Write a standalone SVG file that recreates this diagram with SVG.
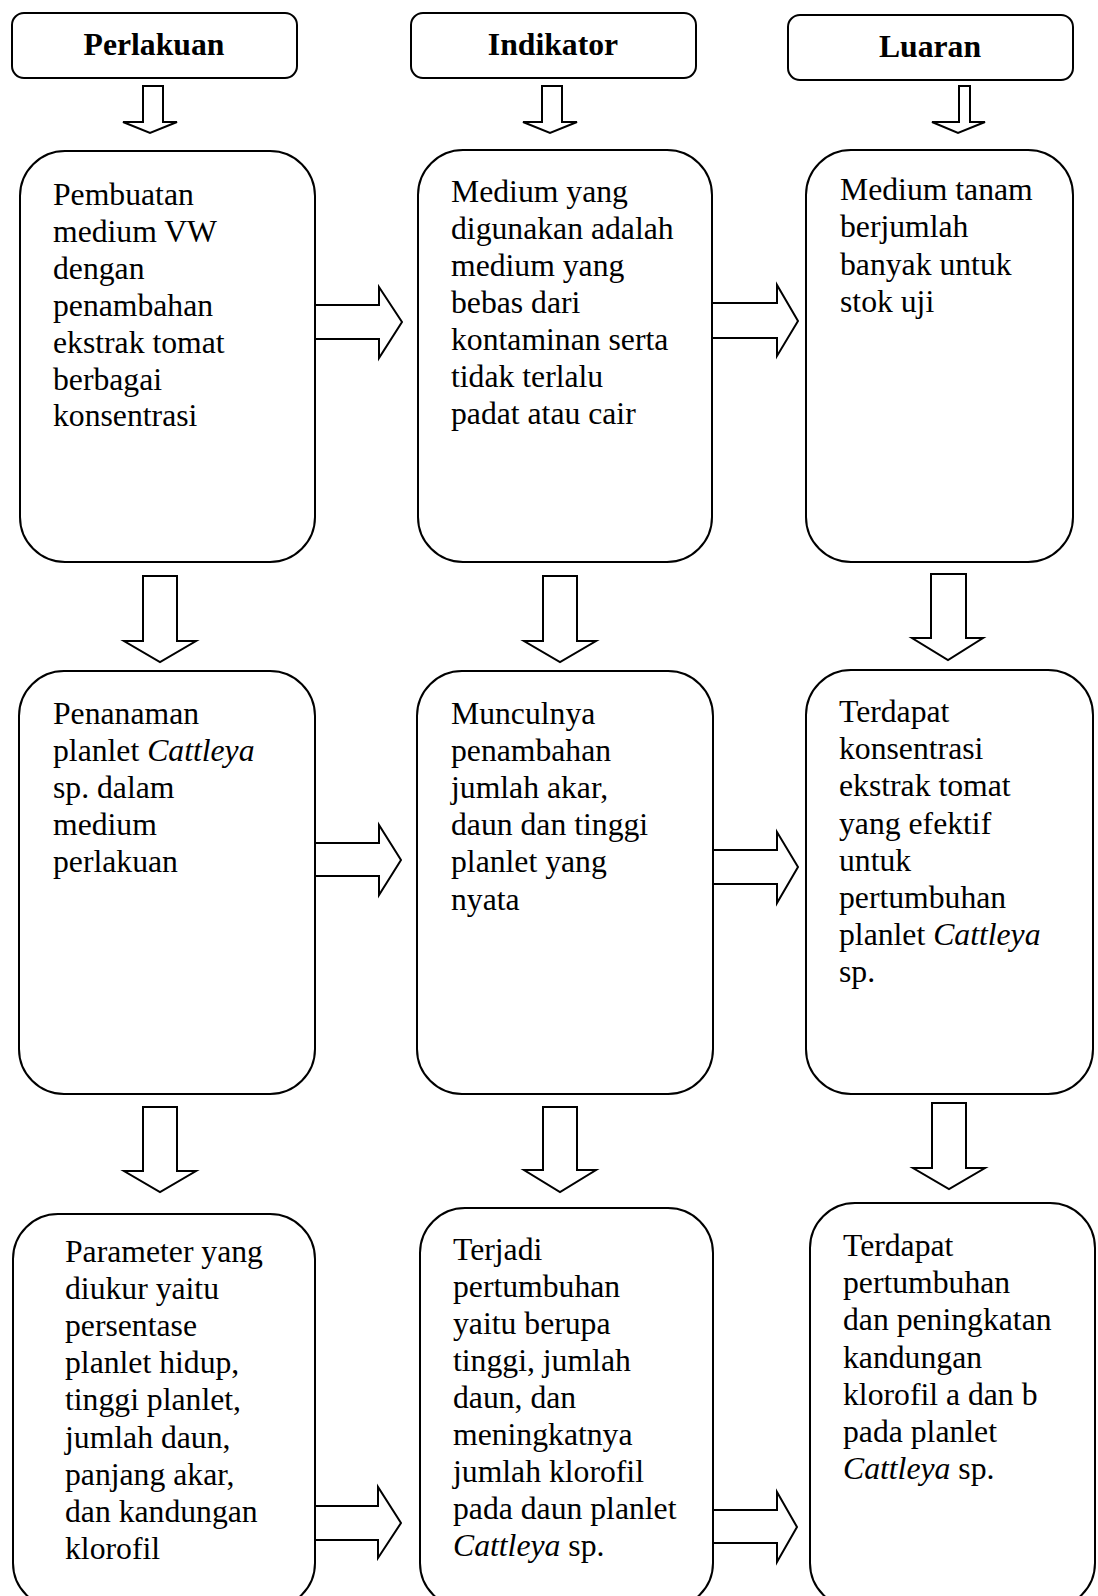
<svg xmlns="http://www.w3.org/2000/svg" width="1098" height="1596" viewBox="0 0 1098 1596">
<style>
.box{fill:#fff;stroke:#000;stroke-width:2}
.arr{fill:#fff;stroke:#000;stroke-width:2;stroke-linejoin:miter}
.t{font-family:"Liberation Serif","Times New Roman",serif;font-size:31.7px;fill:#000}
.h{font-family:"Liberation Serif","Times New Roman",serif;font-size:31.7px;font-weight:bold;fill:#000;text-anchor:middle}
.i{font-style:italic}
</style>
<rect x="0" y="0" width="1098" height="1596" fill="#fff"/>
<g id="connectors">
<polygon class="arr" points="143,86 163,86 163,122 177,122 150,133 123,122 143,122"/>
<polygon class="arr" points="542,86 562,86 562,122 577,122 550,133 523,122 542,122"/>
<polygon class="arr" points="959,86 970,86 970,122 985,122 958,133 932,122 959,122"/>
<polygon class="arr" points="143,576 177,576 177,641 196,641 160,662 124,641 143,641"/>
<polygon class="arr" points="543,576 577,576 577,641 596,641 560,662 524,641 543,641"/>
<polygon class="arr" points="931,574 966,574 966,638 983,638 948,660 912,638 931,638"/>
<polygon class="arr" points="143,1107 177,1107 177,1171 196,1171 160,1192 124,1171 143,1171"/>
<polygon class="arr" points="543,1107 577,1107 577,1170 596,1170 560,1192 524,1170 543,1170"/>
<polygon class="arr" points="932,1103 966,1103 966,1168 985,1168 949,1189 913,1168 932,1168"/>
<polygon class="arr" points="315,305 379,305 379,287 402,322 379,358 379,339 315,339"/>
<polygon class="arr" points="712,303 777,303 777,285 798,321 777,356 777,338 712,338"/>
<polygon class="arr" points="315,843 379,843 379,825 401,860 379,895 379,876 315,876"/>
<polygon class="arr" points="713,850 777,850 777,832 798,867 777,903 777,884 713,884"/>
<polygon class="arr" points="315,1506 378,1506 378,1487 401,1523 378,1558 378,1540 315,1540"/>
<polygon class="arr" points="713,1510 777,1510 777,1492 797,1527 777,1562 777,1543 713,1543"/>
</g>
<g id="h-perlakuan">
<rect class="box" x="12" y="13" width="285" height="65" rx="12" ry="12"/>
<text class="h" x="154" y="55">Perlakuan</text>
</g>
<g id="h-indikator">
<rect class="box" x="411" y="13" width="285" height="65" rx="12" ry="12"/>
<text class="h" x="553" y="55">Indikator</text>
</g>
<g id="h-luaran">
<rect class="box" x="788" y="15" width="285" height="65" rx="12" ry="12"/>
<text class="h" x="930" y="57">Luaran</text>
</g>
<g id="p1">
<rect class="box" x="20" y="151" width="295" height="411" rx="45" ry="45"/>
<text class="t" x="53" y="205">Pembuatan</text>
<text class="t" x="53" y="241.9">medium VW</text>
<text class="t" x="53" y="278.8">dengan</text>
<text class="t" x="53" y="315.7">penambahan</text>
<text class="t" x="53" y="352.6">ekstrak tomat</text>
<text class="t" x="53" y="389.5">berbagai</text>
<text class="t" x="53" y="426.4">konsentrasi</text>
</g>
<g id="i1">
<rect class="box" x="418" y="150" width="294" height="412" rx="45" ry="45"/>
<text class="t" x="451" y="202">Medium yang</text>
<text class="t" x="451" y="239">digunakan adalah</text>
<text class="t" x="451" y="276">medium yang</text>
<text class="t" x="451" y="313">bebas dari</text>
<text class="t" x="451" y="350">kontaminan serta</text>
<text class="t" x="451" y="387">tidak terlalu</text>
<text class="t" x="451" y="424">padat atau cair</text>
</g>
<g id="l1">
<rect class="box" x="806" y="150" width="267" height="412" rx="45" ry="45"/>
<text class="t" x="840" y="200">Medium tanam</text>
<text class="t" x="840" y="237.3">berjumlah</text>
<text class="t" x="840" y="274.6">banyak untuk</text>
<text class="t" x="840" y="311.9">stok uji</text>
</g>
<g id="p2">
<rect class="box" x="19" y="671" width="296" height="423" rx="45" ry="45"/>
<text class="t" x="53" y="723.5">Penanaman</text>
<text class="t" x="53" y="760.7">planlet <tspan class="i">Cattleya</tspan></text>
<text class="t" x="53" y="797.9">sp. dalam</text>
<text class="t" x="53" y="835.1">medium</text>
<text class="t" x="53" y="872.3">perlakuan</text>
</g>
<g id="i2">
<rect class="box" x="417" y="671" width="296" height="423" rx="45" ry="45"/>
<text class="t" x="451" y="723.5">Munculnya</text>
<text class="t" x="451" y="760.7">penambahan</text>
<text class="t" x="451" y="797.9">jumlah akar,</text>
<text class="t" x="451" y="835.1">daun dan tinggi</text>
<text class="t" x="451" y="872.3">planlet yang</text>
<text class="t" x="451" y="909.5">nyata</text>
</g>
<g id="l2">
<rect class="box" x="806" y="670" width="287" height="424" rx="45" ry="45"/>
<text class="t" x="839" y="722">Terdapat</text>
<text class="t" x="839" y="759.2">konsentrasi</text>
<text class="t" x="839" y="796.4">ekstrak tomat</text>
<text class="t" x="839" y="833.6">yang efektif</text>
<text class="t" x="839" y="870.8">untuk</text>
<text class="t" x="839" y="908">pertumbuhan</text>
<text class="t" x="839" y="945.2">planlet <tspan class="i">Cattleya</tspan></text>
<text class="t" x="839" y="982.4">sp.</text>
</g>
<g id="p3">
<rect class="box" x="13" y="1214" width="302" height="394" rx="45" ry="45"/>
<text class="t" x="65" y="1262">Parameter yang</text>
<text class="t" x="65" y="1299.1">diukur yaitu</text>
<text class="t" x="65" y="1336.2">persentase</text>
<text class="t" x="65" y="1373.3">planlet hidup,</text>
<text class="t" x="65" y="1410.4">tinggi planlet,</text>
<text class="t" x="65" y="1447.5">jumlah daun,</text>
<text class="t" x="65" y="1484.6">panjang akar,</text>
<text class="t" x="65" y="1521.7">dan kandungan</text>
<text class="t" x="65" y="1558.8">klorofil</text>
</g>
<g id="i3">
<rect class="box" x="420" y="1208" width="293" height="400" rx="45" ry="45"/>
<text class="t" x="453" y="1260">Terjadi</text>
<text class="t" x="453" y="1297">pertumbuhan</text>
<text class="t" x="453" y="1334">yaitu berupa</text>
<text class="t" x="453" y="1371">tinggi, jumlah</text>
<text class="t" x="453" y="1408">daun, dan</text>
<text class="t" x="453" y="1445">meningkatnya</text>
<text class="t" x="453" y="1482">jumlah klorofil</text>
<text class="t" x="453" y="1519">pada daun planlet</text>
<text class="t" x="453" y="1556"><tspan class="i">Cattleya</tspan> sp.</text>
</g>
<g id="l3">
<rect class="box" x="810" y="1203" width="285" height="405" rx="45" ry="45"/>
<text class="t" x="843" y="1256">Terdapat</text>
<text class="t" x="843" y="1293.2">pertumbuhan</text>
<text class="t" x="843" y="1330.4">dan peningkatan</text>
<text class="t" x="843" y="1367.6">kandungan</text>
<text class="t" x="843" y="1404.8">klorofil a dan b</text>
<text class="t" x="843" y="1442">pada planlet</text>
<text class="t" x="843" y="1479.2"><tspan class="i">Cattleya</tspan> sp.</text>
</g>
</svg>
